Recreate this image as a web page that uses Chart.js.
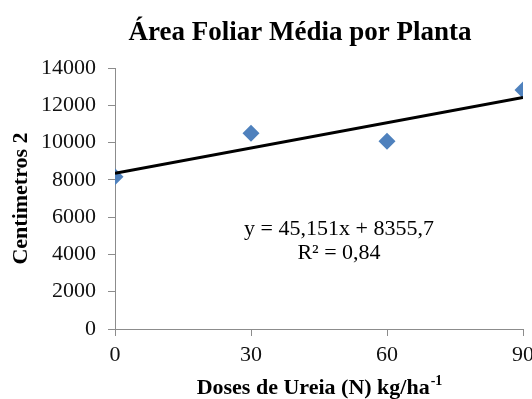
<!DOCTYPE html>
<html>
<head>
<meta charset="utf-8">
<script src="https://cdn.jsdelivr.net/npm/chart.js@4/dist/chart.umd.min.js"></script>
<style>
  html, body { margin: 0; padding: 0; background: #ffffff; }
  #wrap { width: 532px; height: 399px; }
</style>
</head>
<body>
<div id="wrap"><canvas id="c" width="532" height="399"></canvas></div>
<script>
// Doses de ureia (kg/ha) e área foliar média (cm²)
const doses = [0, 30, 60, 90];
const areaFoliar = [8160, 10500, 10070, 12820];

// Linha de tendência linear publicada: y = 45,151x + 8355,7 ; R² = 0,84
const trendSlope = [45.151];
const trendIntercept = [8355.7];
const trendR2 = ['0,84'];
const trendRange = [0, 90];

const titleText = 'Área Foliar Média por Planta';
const yTitle = 'Centimetros 2';
const xTitleMain = 'Doses de Ureia (N) kg/ha';
const xTitleSup = '-1';
const yTicks = [0, 2000, 4000, 6000, 8000, 10000, 12000, 14000];
const xTicks = [0, 30, 60, 90];

const serif = "'Liberation Serif', 'Times New Roman', serif";
const axisGrey = '#8c8c8c';

const scatterPts = doses.map((d, i) => ({ x: d, y: areaFoliar[i] }));
const trendPts = trendRange.map(x => ({ x: x, y: trendSlope[0] * x + trendIntercept[0] }));

const eqLabel = 'y = ' + trendSlope[0].toString().replace('.', ',') + 'x + ' +
                trendIntercept[0].toString().replace('.', ',');

const textPlugin = {
  id: 'textPlugin',
  afterDraw(chart) {
    const ctx = chart.ctx;
    const area = chart.chartArea;
    ctx.save();
    ctx.fillStyle = '#000';
    ctx.textBaseline = 'middle';

    // chart title
    ctx.font = 'bold 27px ' + serif;
    ctx.textAlign = 'center';
    ctx.fillText(titleText, 300, 33);

    // x axis title with superscript
    ctx.font = 'bold 22px ' + serif;
    const wMain = ctx.measureText(xTitleMain).width;
    ctx.font = 'bold 14px ' + serif;
    const wSup = ctx.measureText(xTitleSup).width;
    const cx = (area.left + area.right) / 2;
    const startX = cx - (wMain + wSup) / 2;
    ctx.textAlign = 'left';
    ctx.font = 'bold 22px ' + serif;
    ctx.fillText(xTitleMain, startX, 388);
    ctx.font = 'bold 14px ' + serif;
    ctx.fillText(xTitleSup, startX + wMain + 1, 381);

    // trendline equation
    ctx.font = '22px ' + serif;
    ctx.textAlign = 'center';
    ctx.fillText(eqLabel, 339, 229);
    ctx.fillText('R² = ' + trendR2[0], 339, 253);
    ctx.restore();
  }
};

new Chart(document.getElementById('c'), {
  type: 'scatter',
  data: {
    datasets: [
      {
        type: 'line',
        label: 'Linear',
        data: trendPts,
        borderColor: '#000000',
        borderWidth: 3,
        pointRadius: 0,
        fill: false,
        order: 0
      },
      {
        label: 'Área foliar',
        data: scatterPts,
        pointStyle: 'rectRot',
        pointRadius: 8.5,
        pointBackgroundColor: '#4F81BD',
        pointBorderWidth: 0,
        borderWidth: 0,
        order: 1
      }
    ]
  },
  options: {
    responsive: false,
    animation: false,
    layout: { padding: { top: 68, right: 9, bottom: 0, left: 0 } },
    plugins: {
      legend: { display: false },
      tooltip: { enabled: false },
      title: { display: false }
    },
    scales: {
      x: {
        type: 'linear',
        min: 0,
        max: 90,
        afterBuildTicks(scale) { scale.ticks = xTicks.map(v => ({ value: v })); },
        afterFit(scale) {
          scale.height = 70;
          scale.paddingLeft = 0;
          scale.paddingRight = 0;
        },
        ticks: {
          color: '#111',
          font: { family: serif, size: 22 },
          padding: 6,
          maxRotation: 0,
          callback: v => String(v)
        },
        grid: { drawOnChartArea: false, color: axisGrey, tickLength: 7 },
        border: { color: axisGrey, width: 1 }
      },
      y: {
        min: 0,
        max: 14000,
        afterBuildTicks(scale) { scale.ticks = yTicks.map(v => ({ value: v })); },
        afterFit(scale) {
          scale.width = 115;
          scale.paddingTop = 0;
          scale.paddingBottom = 0;
        },
        ticks: {
          color: '#111',
          font: { family: serif, size: 22 },
          padding: 12,
          callback: v => String(v)
        },
        grid: { drawOnChartArea: false, color: axisGrey, tickLength: 7 },
        border: { color: axisGrey, width: 1 },
        title: {
          display: true,
          text: yTitle,
          color: '#000',
          font: { family: serif, size: 22, weight: 'bold' },
          padding: { top: 8, bottom: 0 }
        }
      }
    }
  },
  plugins: [textPlugin]
});
</script>
</body>
</html>
